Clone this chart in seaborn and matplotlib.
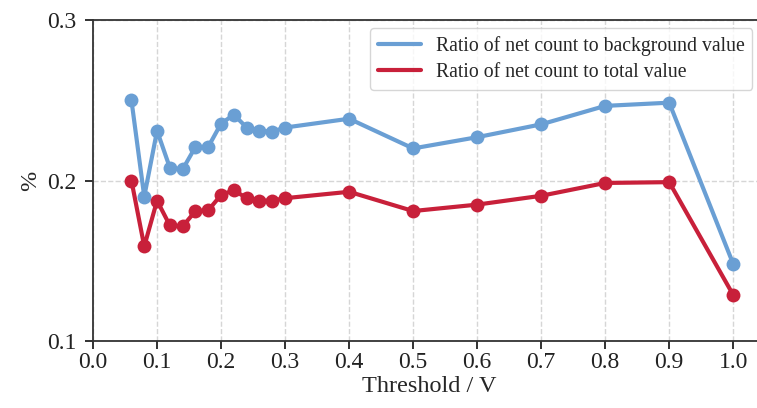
import numpy as np
import pandas as pd
import seaborn as sns
import matplotlib.pyplot as plt
from matplotlib.lines import Line2D

thresholds = [0.06, 0.08, 0.10, 0.12, 0.14, 0.16, 0.18, 0.20, 0.22, 0.24,
              0.26, 0.28, 0.30, 0.40, 0.50, 0.60, 0.70, 0.80, 0.90, 1.00]
ratio_background = [0.250, 0.190, 0.231, 0.208, 0.207, 0.221, 0.221, 0.2355, 0.241, 0.233,
                    0.231, 0.2305, 0.233, 0.2385, 0.220, 0.227, 0.235, 0.2465, 0.2485, 0.148]
ratio_total = [0.200, 0.159, 0.1875, 0.172, 0.1715, 0.181, 0.1815, 0.191, 0.194, 0.189,
               0.1875, 0.1875, 0.189, 0.193, 0.181, 0.185, 0.1905, 0.1985, 0.199, 0.1287]
labels = ['Ratio of net count to background value', 'Ratio of net count to total value']
colors = ['#6a9fd4', '#c8203a']

sns.set_style('ticks')
plt.rcParams['font.family'] = ['Liberation Serif', 'DejaVu Serif']

df = pd.DataFrame({'Threshold': thresholds * 2,
                   'Ratio': ratio_background + ratio_total,
                   'Series': [labels[0]] * len(thresholds) + [labels[1]] * len(thresholds)})

fig = plt.figure(figsize=(7.57, 4.08), dpi=100)
# right edge of the axes runs past the figure, as in the reference
ax = fig.add_axes([0.1229, 0.164, 0.888, 0.787])

for lab, col in zip(labels, colors):
    sub = df[df['Series'] == lab]
    sns.lineplot(data=sub, x='Threshold', y='Ratio', ax=ax, color=col, linewidth=3,
                 marker='o', markersize=10, markeredgewidth=0, legend=False)

ax.set_xlim(0, 1.05)
ax.set_ylim(0.1, 0.3)
ax.set_xticks(np.arange(0, 1.01, 0.1))
ax.set_yticks([0.1, 0.2, 0.3])
ax.set_xticklabels(['{:.1f}'.format(t) for t in np.arange(0, 1.01, 0.1)])
ax.grid(True, linestyle='--', color='#d6d6d6', linewidth=1)
ax.tick_params(labelsize=17, length=6, width=1.3, direction='out', colors='#222222')
ax.tick_params(axis='y', pad=6)
ax.tick_params(axis='x', pad=2)
for s in ax.spines.values():
    s.set_linewidth(1.3)
    s.set_color('#333333')
ax.set_xlabel('Threshold / V', fontsize=17.5, labelpad=2)
ax.set_ylabel('%', fontsize=17.5, labelpad=4)

handles = [Line2D([0], [0], color=c, linewidth=3) for c in colors]
ax.legend(handles, labels, loc='upper right', bbox_to_anchor=(0.981, 0.975),
          borderaxespad=0, fontsize=14.2, frameon=True, edgecolor='#cccccc',
          fancybox=True, borderpad=0.4, handlelength=2.2, handletextpad=0.75,
          labelspacing=0.35)

plt.savefig('out.png', dpi=100)
